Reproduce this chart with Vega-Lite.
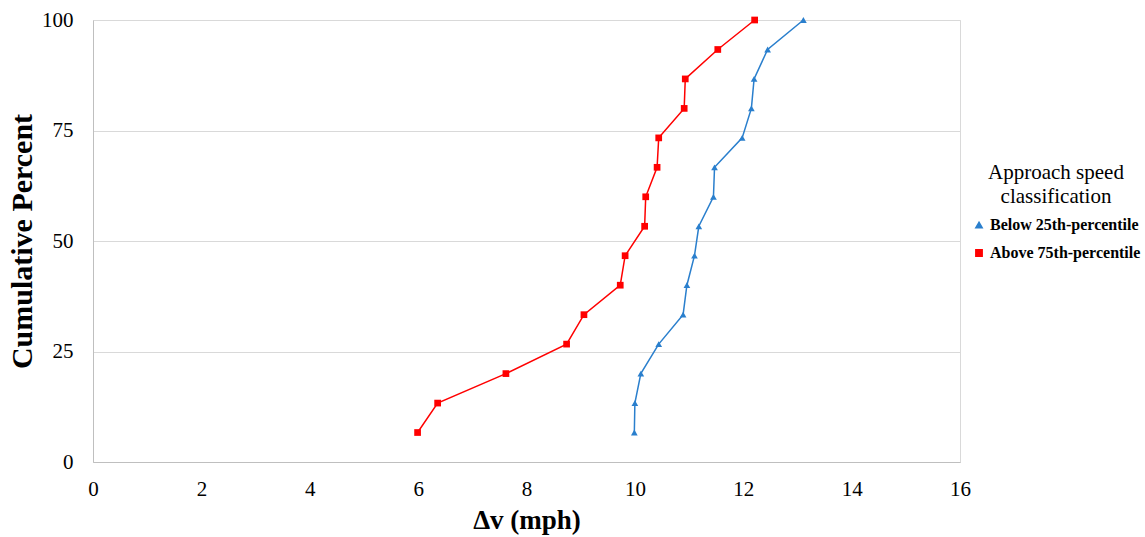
{
  "$schema": "https://vega.github.io/schema/vega-lite/v6.json",
  "autosize": "none",
  "width": 867,
  "height": 442,
  "padding": {"left": 93, "top": 20, "right": 185, "bottom": 75},
  "background": "white",
  "config": {
    "font": "Liberation Serif",
    "view": {"stroke": "#d9d9d9", "strokeWidth": 1}
  },
  "data": {
    "values": [
      {"dv": 9.99, "pct": 6.67, "group": "Below 25th-percentile"},
      {"dv": 10.0, "pct": 13.33, "group": "Below 25th-percentile"},
      {"dv": 10.11, "pct": 20.0, "group": "Below 25th-percentile"},
      {"dv": 10.44, "pct": 26.67, "group": "Below 25th-percentile"},
      {"dv": 10.89, "pct": 33.33, "group": "Below 25th-percentile"},
      {"dv": 10.96, "pct": 40.0, "group": "Below 25th-percentile"},
      {"dv": 11.1, "pct": 46.67, "group": "Below 25th-percentile"},
      {"dv": 11.18, "pct": 53.33, "group": "Below 25th-percentile"},
      {"dv": 11.45, "pct": 60.0, "group": "Below 25th-percentile"},
      {"dv": 11.47, "pct": 66.67, "group": "Below 25th-percentile"},
      {"dv": 11.98, "pct": 73.33, "group": "Below 25th-percentile"},
      {"dv": 12.15, "pct": 80.0, "group": "Below 25th-percentile"},
      {"dv": 12.2, "pct": 86.67, "group": "Below 25th-percentile"},
      {"dv": 12.45, "pct": 93.33, "group": "Below 25th-percentile"},
      {"dv": 13.11, "pct": 100.0, "group": "Below 25th-percentile"},
      {"dv": 5.99, "pct": 6.67, "group": "Above 75th-percentile"},
      {"dv": 6.36, "pct": 13.33, "group": "Above 75th-percentile"},
      {"dv": 7.62, "pct": 20.0, "group": "Above 75th-percentile"},
      {"dv": 8.74, "pct": 26.67, "group": "Above 75th-percentile"},
      {"dv": 9.06, "pct": 33.33, "group": "Above 75th-percentile"},
      {"dv": 9.73, "pct": 40.0, "group": "Above 75th-percentile"},
      {"dv": 9.82, "pct": 46.67, "group": "Above 75th-percentile"},
      {"dv": 10.18, "pct": 53.33, "group": "Above 75th-percentile"},
      {"dv": 10.2, "pct": 60.0, "group": "Above 75th-percentile"},
      {"dv": 10.41, "pct": 66.67, "group": "Above 75th-percentile"},
      {"dv": 10.44, "pct": 73.33, "group": "Above 75th-percentile"},
      {"dv": 10.91, "pct": 80.0, "group": "Above 75th-percentile"},
      {"dv": 10.93, "pct": 86.67, "group": "Above 75th-percentile"},
      {"dv": 11.53, "pct": 93.33, "group": "Above 75th-percentile"},
      {"dv": 12.21, "pct": 100.0, "group": "Above 75th-percentile"}
    ]
  },
  "encoding": {
    "x": {
      "field": "dv", "type": "quantitative",
      "scale": {"domain": [0, 16], "nice": false, "zero": false},
      "axis": {
        "values": [0, 2, 4, 6, 8, 10, 12, 14, 16],
        "title": "Δv (mph)",
        "titleFont": "Liberation Serif", "titleFontSize": 27, "titleFontWeight": "bold", "titleColor": "black",
        "titlePadding": 8,
        "labelFont": "Liberation Serif", "labelFontSize": 21, "labelColor": "black", "labelPadding": 16,
        "labelFlush": false, "labelOverlap": false, "labelBound": false,
        "ticks": false, "grid": false,
        "domainColor": "#bfbfbf"
      }
    },
    "y": {
      "field": "pct", "type": "quantitative",
      "scale": {"domain": [0, 100], "nice": false},
      "axis": {
        "values": [0, 25, 50, 75, 100],
        "title": "Cumulative Percent",
        "titleFont": "Liberation Serif", "titleFontSize": 30, "titleFontWeight": "bold", "titleColor": "black",
        "titlePadding": 4,
        "labelFont": "Liberation Serif", "labelFontSize": 21, "labelColor": "black", "labelPadding": 20,
        "labelFlush": false, "labelOverlap": false,
        "ticks": false, "grid": true, "gridColor": "#d9d9d9",
        "domainColor": "#bfbfbf"
      }
    },
    "color": {
      "field": "group", "type": "nominal",
      "scale": {"domain": ["Below 25th-percentile", "Above 75th-percentile"], "range": ["#2a7fcd", "#ff0000"]},
      "legend": {
        "title": ["Approach speed", "classification"],
        "titleFont": "Liberation Serif", "titleFontSize": 21, "titleFontWeight": "normal", "titleColor": "black",
        "titleAlign": "center", "titleAnchor": "middle", "titleLineHeight": 24, "titlePadding": 10,
        "labelFont": "Liberation Serif", "labelFontSize": 16, "labelFontWeight": "bold", "labelColor": "black",
        "labelOffset": 3, "labelLimit": 300,
        "symbolSize": 40, "rowPadding": 12,
        "orient": "none", "legendX": 878, "legendY": 142
      }
    }
  },
  "layer": [
    {"mark": {"type": "line", "strokeWidth": 1.5}},
    {
      "mark": {"type": "point", "filled": true, "size": 45, "opacity": 1},
      "encoding": {
        "shape": {
          "field": "group", "type": "nominal",
          "scale": {"domain": ["Below 25th-percentile", "Above 75th-percentile"], "range": ["triangle-up", "square"]},
          "legend": null
        }
      }
    }
  ]
}
